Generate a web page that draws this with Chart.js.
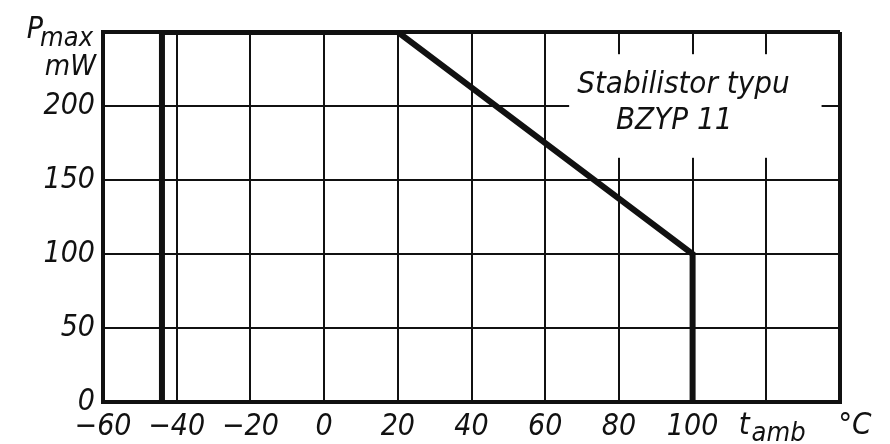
<!DOCTYPE html>
<html><head><meta charset="utf-8">
<script src="https://cdn.jsdelivr.net/npm/chart.js@4/dist/chart.umd.min.js"></script>
<style>html,body{margin:0;padding:0;background:#fff;}canvas{display:block;}</style>
</head><body>
<canvas id="c" width="890" height="444"></canvas>
<script>
// ---- data ----
const tempC   = [-44, -44, 20, 100, 100];   // t_amb, °C
const powerMW = [0, 250, 250, 100, 0];      // P_max, mW
const xTicks = [-60, -40, -20, 0, 20, 40, 60, 80, 100, 120, 140];
const xTickLabels = ['\u221260', '\u221240', '\u221220', '0', '20', '40', '60', '80', '100', '', ''];
const yTicks = [0, 50, 100, 150, 200, 250];
const yTickLabels = ['0', '50', '100', '150', '200', ''];
const noteLines = ['Stabilistor typu', 'BZYP 11'];
const yTitle = ['P', 'max', 'mW'];
const xTitle = ['t', 'amb', '\u00B0C'];

const FAMILY = "'DejaVu Sans Condensed','DejaVu Sans',sans-serif";
const INK = '#111';

const textPlugin = {
  id: 'texts',
  beforeDatasetsDraw(chart) {
    const {ctx, scales: {x, y}} = chart;
    ctx.save();
    ctx.fillStyle = '#fff';
    const x1 = x.getPixelForValue(66.5), x2 = x.getPixelForValue(135);
    const y1 = y.getPixelForValue(235), y2 = y.getPixelForValue(165);
    ctx.fillRect(x1, y1, x2 - x1, y2 - y1);
    ctx.restore();
  },
  afterDraw(chart) {
    const {ctx, scales: {x, y}} = chart;
    ctx.save();
    ctx.fillStyle = INK;
    ctx.textBaseline = 'alphabetic';
    // note
    ctx.font = `italic 31px ${FAMILY}`;
    ctx.textAlign = 'center';
    ctx.fillText(noteLines[0], x.getPixelForValue(97.5), y.getPixelForValue(209));
    ctx.fillText(noteLines[1], x.getPixelForValue(95), y.getPixelForValue(184.5));
    // y title: P_max / mW
    const right = x.left - 10;
    ctx.textAlign = 'left';
    ctx.font = `italic 30px ${FAMILY}`;
    const wP = ctx.measureText(yTitle[0]).width;
    ctx.font = `italic 27px ${FAMILY}`;
    const wMax = ctx.measureText(yTitle[1]).width;
    const startP = right - wP - wMax + 3;
    ctx.font = `italic 30px ${FAMILY}`;
    ctx.fillText(yTitle[0], startP, 38);
    ctx.font = `italic 27px ${FAMILY}`;
    ctx.fillText(yTitle[1], startP + wP - 3, 46);
    ctx.textAlign = 'right';
    ctx.font = `italic 29px ${FAMILY}`;
    ctx.fillText(yTitle[2], right + 3, 75);
    // x title: t_amb °C
    ctx.textAlign = 'left';
    const xs = x.getPixelForValue(112.5);
    ctx.font = `italic 31px ${FAMILY}`;
    ctx.fillText(xTitle[0], xs, 434);
    const wt = ctx.measureText(xTitle[0]).width;
    ctx.font = `italic 27px ${FAMILY}`;
    ctx.fillText(xTitle[1], xs + wt + 2, 441);
    ctx.font = `italic 31px ${FAMILY}`;
    ctx.fillText(xTitle[2], x.getPixelForValue(139.5), 434);
    ctx.restore();
  }
};

new Chart(document.getElementById('c'), {
  type: 'line',
  data: {
    datasets: [{
      data: tempC.map((t, i) => ({x: t, y: powerMW[i]})),
      borderColor: INK,
      borderWidth: 6,
      pointRadius: 0,
      tension: 0,
      fill: false,
      borderJoinStyle: 'miter'
    }]
  },
  options: {
    responsive: false,
    animation: false,
    devicePixelRatio: 1,
    layout: {padding: {left: 0, right: 50, top: 32, bottom: 0}},
    plugins: {legend: {display: false}, tooltip: {enabled: false}},
    scales: {
      x: {
        type: 'linear', min: -60, max: 140,
        afterBuildTicks: s => { s.ticks = xTicks.map(v => ({value: v})); },
        afterFit: s => { s.height = 42; },
        border: {display: true, color: INK, width: 4},
        grid: {
          color: INK, drawTicks: false,
          lineWidth: c => (c.tick && (c.tick.value === 140 || c.tick.value === -60)) ? 4 : 2
        },
        ticks: {
          color: INK, padding: 7, maxRotation: 0, autoSkip: false,
          font: {family: FAMILY, size: 30, style: 'italic'},
          callback: v => { const i = xTicks.indexOf(v); return i < 0 ? '' : xTickLabels[i]; }
        }
      },
      y: {
        type: 'linear', min: 0, max: 250,
        afterBuildTicks: s => { s.ticks = yTicks.map(v => ({value: v})); },
        afterFit: s => { s.width = 103; },
        border: {display: true, color: INK, width: 4},
        grid: {
          color: INK, drawTicks: false,
          lineWidth: c => (c.tick && (c.tick.value === 250 || c.tick.value === 0)) ? 4 : 2
        },
        ticks: {
          color: INK, padding: 8, autoSkip: false,
          font: {family: FAMILY, size: 30, style: 'italic'},
          callback: v => { const i = yTicks.indexOf(v); return i < 0 ? '' : yTickLabels[i]; }
        }
      }
    }
  },
  plugins: [textPlugin]
});
</script>
</body></html>
